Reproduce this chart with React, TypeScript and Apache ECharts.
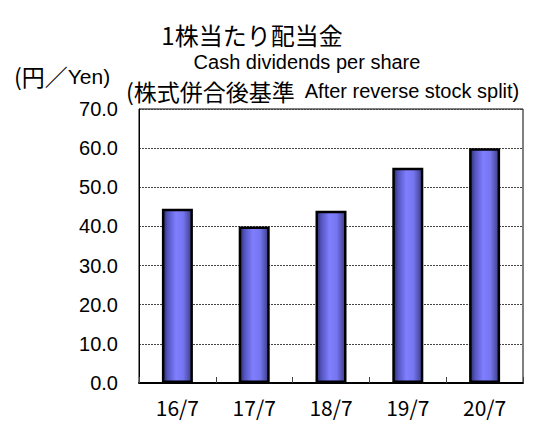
import React, { useEffect, useRef } from "react";
import * as echarts from "echarts";

const categories = ["16/7", "17/7", "18/7", "19/7", "20/7"];
const dividends = [44.5, 40, 44, 55, 60];
const yTicks = { min: 0, max: 70, interval: 10 };
const titleJa = "1株当たり配当金";
const titleEn = "Cash dividends per share";
const unitJa = "(円／";
const unitEn = "Yen)";
const noteJa = "(株式併合後基準";
const noteEn = "  After reverse stock split)";

const JP = '"Noto Sans CJK JP", "Liberation Sans", sans-serif';
const LAT = '"Liberation Sans", "Noto Sans CJK JP", sans-serif';

export default function App() {
  const ref = useRef<HTMLDivElement>(null);
  useEffect(() => {
    if (!ref.current) return;
    const chart = echarts.init(ref.current, null, { renderer: "svg" });
    const barGradient = new echarts.graphic.LinearGradient(0, 0, 1, 0, [
      { offset: 0, color: "#2a2a6a" },
      { offset: 0.15, color: "#5252bc" },
      { offset: 0.45, color: "#7f7fff" },
      { offset: 0.7, color: "#7676f0" },
      { offset: 1, color: "#3c3c88" },
    ]);
    chart.setOption({
      animation: false,
      backgroundColor: "#ffffff",
      grid: {
        left: 139,
        right: 26,
        top: 109,
        bottom: 38,
        show: true,
        borderColor: "#000",
        borderWidth: 1,
      },
      graphic: [
        {
          type: "text",
          x: 252,
          y: 34,
          style: {
            text: titleJa,
            font: `24px ${JP}`,
            fill: "#000",
            align: "center",
            verticalAlign: "middle",
          },
        },
        {
          type: "text",
          x: 307,
          y: 62,
          style: {
            text: titleEn,
            font: `20px ${LAT}`,
            fill: "#000",
            align: "center",
            verticalAlign: "middle",
          },
        },
        {
          type: "text",
          x: 14,
          y: 76,
          style: {
            text: `{a|${unitJa}}{b|${unitEn}}`,
            rich: {
              a: { fontFamily: JP, fontSize: 23, fill: "#000" },
              b: { fontFamily: LAT, fontSize: 21, fill: "#000" },
            },
            fill: "#000",
            align: "left",
            verticalAlign: "middle",
          },
        },
        {
          type: "text",
          x: 126,
          y: 91,
          style: {
            text: `{a|${noteJa}}{b|${noteEn}}`,
            rich: {
              a: { fontFamily: JP, fontSize: 23, fill: "#000" },
              b: { fontFamily: LAT, fontSize: 20, fill: "#000" },
            },
            fill: "#000",
            align: "left",
            verticalAlign: "middle",
          },
        },
      ],
      xAxis: {
        type: "category",
        data: categories,
        axisLine: { show: true, lineStyle: { color: "#000", width: 2 } },
        axisTick: {
          show: true,
          inside: true,
          length: 6,
          lineStyle: { color: "#444", width: 1 },
        },
        axisLabel: {
          color: "#000",
          fontSize: 21,
          lineHeight: 20,
          fontFamily: JP,
          margin: 14,
        },
        splitLine: { show: false },
      },
      yAxis: {
        type: "value",
        min: yTicks.min,
        max: yTicks.max,
        interval: yTicks.interval,
        axisLine: { show: true, lineStyle: { color: "#000", width: 1 } },
        axisTick: { show: false },
        axisLabel: {
          color: "#000",
          fontSize: 20,
          fontFamily: LAT,
          margin: 21,
          formatter: (v: number) => v.toFixed(1),
        },
        splitLine: {
          show: true,
          lineStyle: { color: "#444", type: [2, 1], width: 1 },
        },
      },
      series: [
        {
          type: "bar",
          data: dividends,
          barWidth: 31,
          itemStyle: {
            color: barGradient,
            borderColor: "#000",
            borderWidth: 2.5,
          },
        },
      ],
    });
    return () => chart.dispose();
  }, []);
  return (
    <div
      ref={ref}
      style={{ position: "fixed", left: 0, top: 0, width: 549, height: 421 }}
    />
  );
}
